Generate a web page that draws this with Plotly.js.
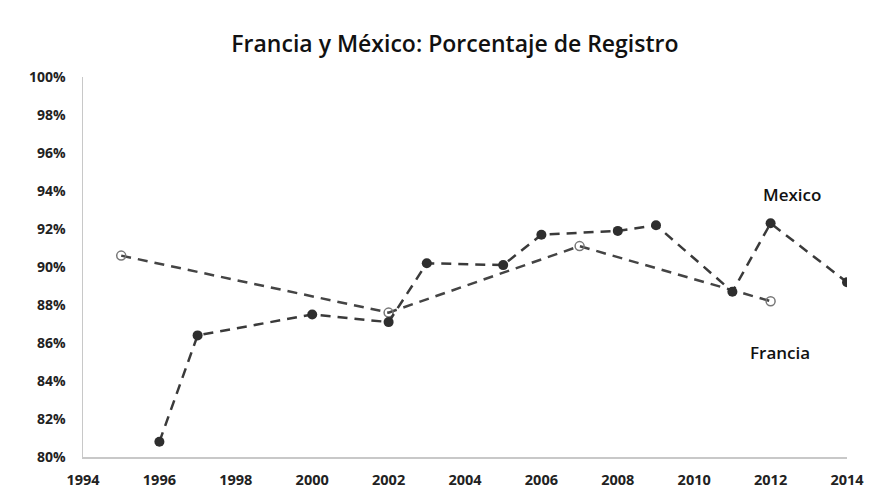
<!DOCTYPE html>
<html>
<head>
<meta charset="utf-8">
<script src="https://cdn.plot.ly/plotly-3.0.1.min.js"></script>
<style>html,body{margin:0;padding:0;background:#fff;}#chart{width:880px;height:502px;}</style>
</head>
<body>
<div id="chart"></div>
<script>
const mexicoYears = [1996, 1997, 2000, 2002, 2003, 2005, 2006, 2008, 2009, 2011, 2012, 2014];
const mexicoValues = [80.8, 86.4, 87.5, 87.1, 90.2, 90.1, 91.7, 91.9, 92.2, 88.7, 92.3, 89.2];
const franciaYears = [1995, 2002, 2007, 2012];
const franciaValues = [90.6, 87.6, 91.1, 88.2];
const xTicks = [1994, 1996, 1998, 2000, 2002, 2004, 2006, 2008, 2010, 2012, 2014];
const yTicks = [80, 82, 84, 86, 88, 90, 92, 94, 96, 98, 100];
const seriesLabels = ["Mexico", "Francia"];
const titleText = "Francia y México: Porcentaje de Registro";

const traces = [
  {
    x: franciaYears, y: franciaValues, type: 'scatter', mode: 'lines+markers',
    name: seriesLabels[1],
    line: {color: '#444', width: 2.5, dash: '10px,7px'},
    marker: {symbol: 'circle-open', size: 9, color: '#777', line: {width: 1.5, color: '#777'}}
  },
  {
    x: mexicoYears, y: mexicoValues, type: 'scatter', mode: 'lines+markers',
    name: seriesLabels[0],
    line: {color: '#3a3a3a', width: 2.5, dash: '10px,7px'},
    marker: {symbol: 'circle', size: 10, color: '#2e2e2e'}
  }
];

const layout = {
  width: 880, height: 502,
  margin: {l: 83, r: 33, t: 77, b: 45},
  paper_bgcolor: '#fff', plot_bgcolor: '#fff',
  showlegend: false,
  font: {family: 'Open Sans, Lato, sans-serif', color: '#222'},
  title: {text: titleText, x: 0.517, xanchor: 'center', y: 0.913, yanchor: 'middle',
    font: {family: 'Open Sans, sans-serif', size: 23, weight: 600, color: '#111'}},
  xaxis: {
    range: [1994, 2014], tickvals: xTicks, ticktext: xTicks.map(String),
    showgrid: false, zeroline: false, showline: true, linecolor: '#c8c8c8', linewidth: 1.5,
    ticks: '', ticklabelstandoff: 9,
    tickfont: {family: 'Open Sans, sans-serif', size: 14.5, weight: 700, color: '#222'}
  },
  yaxis: {
    range: [80, 100], tickvals: yTicks, ticktext: yTicks.map(v => v + '%'),
    showgrid: false, zeroline: false, showline: true, linecolor: '#c8c8c8', linewidth: 1.5,
    ticks: '', ticklabelstandoff: 13,
    tickfont: {family: 'Open Sans, sans-serif', size: 14, weight: 700, color: '#222'}
  },
  annotations: [
    {x: 2012.55, y: 93.8, xref: 'x', yref: 'y', text: seriesLabels[0], showarrow: false,
      font: {family: 'Open Sans, sans-serif', size: 17, weight: 600, color: '#111'}},
    {x: 2012.25, y: 85.5, xref: 'x', yref: 'y', text: seriesLabels[1], showarrow: false,
      font: {family: 'Open Sans, sans-serif', size: 17, weight: 600, color: '#111'}}
  ]
};

Plotly.newPlot('chart', traces, layout, {displayModeBar: false, staticPlot: true});
</script>
</body>
</html>
